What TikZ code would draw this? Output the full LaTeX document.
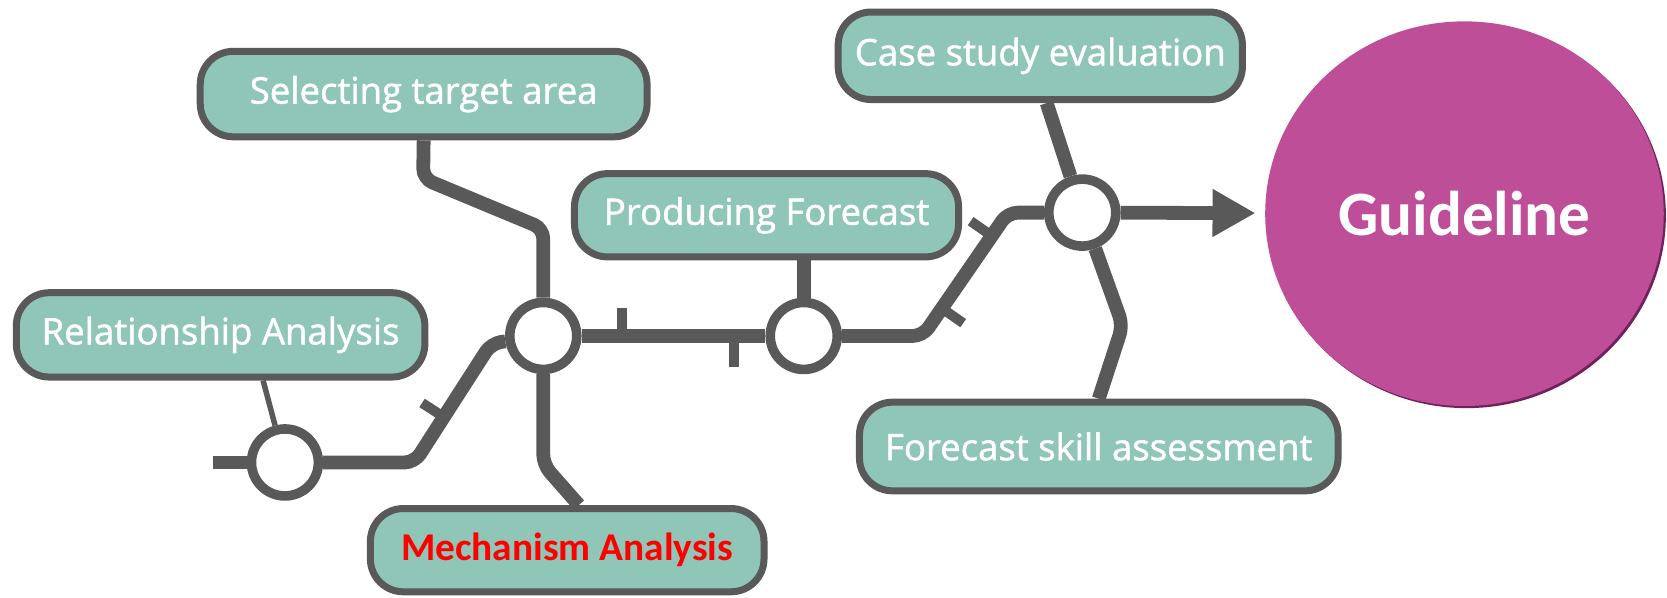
\documentclass[tikz,border=0pt]{standalone}
\usepackage{fontspec}
\setmainfont{Open Sans}
\newfontfamily\stagefont{Open Sans}[FakeBold=1.3]
\newfontfamily\calibri{Carlito}
\usetikzlibrary{arrows.meta,shapes.geometric,calc}
\definecolor{trackgray}{RGB}{89,89,89}
\definecolor{stagefill}{RGB}{143,198,184}
\definecolor{guidefill}{RGB}{190,78,152}
\definecolor{guidedark}{RGB}{112,32,92}
\tikzset{
  stage/.style={draw=trackgray, line width=0.07cm, fill=stagefill, rounded corners=0.33cm,
    text=white, inner sep=0pt, font=\stagefont\fontsize{10.4}{12}\selectfont},
  stn/.style={circle, draw=trackgray, fill=white, line width=0.096cm, minimum size=0.67cm, inner sep=0pt},
  track/.style={draw=trackgray, line width=0.138cm, rounded corners=0.1cm},
  tick/.style={draw=trackgray, line width=0.1cm},
  feeder/.style={draw=trackgray, line width=0.055cm},
}

\begin{document}
\begin{tikzpicture}[x=0.010631cm, y=-0.010631cm]
  \useasboundingbox (0,0) rectangle (1568,562);

  % Boxen
  \node[stage, minimum width=4.47cm, minimum height=0.855cm] (sel) at (398.5,88.5) {Selecting target area};
  \node[stage, minimum width=4.044cm, minimum height=0.876cm] (case) at (978.5,52.5) {Case study evaluation};
  \node[stage, minimum width=3.842cm, minimum height=0.833cm] (prod) at (721,202.5) {Producing Forecast};
  \node[stage, minimum width=4.087cm, minimum height=0.844cm] (rel) at (207.5,315) {Relationship Analysis};
  \node[stage, minimum width=4.788cm, minimum height=0.887cm] (skill) at (1033.5,420) {Forecast skill assessment};
  \node[stage, minimum width=3.938cm, minimum height=0.833cm, text=red,
    font=\calibri\bfseries\fontsize{11.2}{13}\selectfont] (mech) at (533.5,517.5) {Mechanism Analysis};

  % Ziel
  \node[ellipse, fill=guidedark, minimum width=3.987cm, minimum height=3.848cm, inner sep=0pt] (guideshadow) at (1379.5,203) {};
  \node[ellipse, fill=guidefill, minimum width=3.987cm, minimum height=3.848cm, inner sep=0pt,
    text=white, font=\calibri\bfseries\fontsize{18}{20}\selectfont] (guide) at (1377.5,201) {Guideline};

  % Stationen
  \node[stn] (c1) at (268,435) {};
  \node[stn] (c2) at (511,316) {};
  \node[stn] (c3) at (756,316) {};
  \node[stn] (c4) at (1018,200) {};
  \coordinate (start) at (200,435);

  % Hauptlinie
  \draw[track] (start) -- (c1);
  \draw[track] (c1) -- (390,435) -- (462,323) -- (c2);
  \draw[track] (c2) -- (c3);
  \draw[track] (c3) -- (868,316) -- (948,200) -- (c4);
  \draw[track, rounded corners=0pt, -{Triangle[length=0.43cm, width=0.45cm]}, shorten >=0.09cm] (c4) -- (guide);

  % Zweige
  \draw[track] (sel.south) -- (398,168) -- (511,215) -- (c2);
  \draw[track] (prod.south -| c3) -- (c3);
  \draw[track] (c2) -- (511,437) -- ($(mech.north)+(11,0)$);
  \draw[track] ($(case.south)+(6,0)$) -- (c4);
  \draw[track] (c4) -- (1056,306) -- (skill.north);
  \draw[feeder] ($(rel.south)+(40,0)$) -- (c1);

  % Querstriche
  \draw[tick] (585,290) -- (585,316);
  \draw[tick] (690,316) -- (690,345);
  \draw[tick] (417,392) -- ++(-20,-13);
  \draw[tick] (933,222) -- ++(-20,-14);
  \draw[tick] (886,290) -- ++(20,14);
\end{tikzpicture}
\end{document}
